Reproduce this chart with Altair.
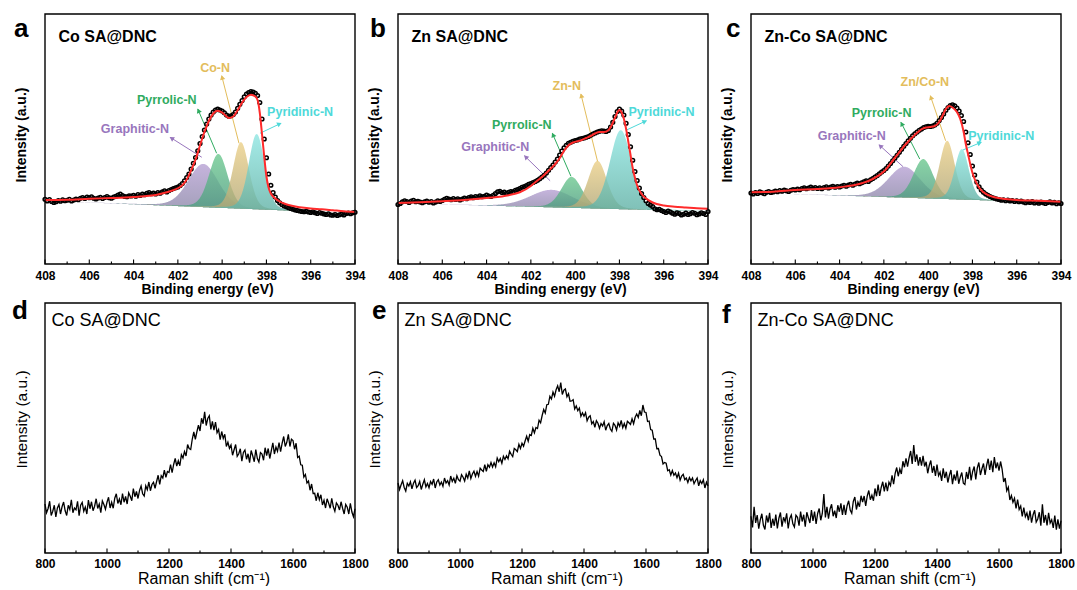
import numpy as np
import pandas as pd
import altair as alt

FONT = "Liberation Sans"

# ---------------- XPS N 1s: measured points, 408.0 -> 394.0 eV, 0.1 eV steps ----------------
xps_a = [25.9, 25.2, 25.8, 25.0, 24.6, 24.9, 25.4, 25.1, 25.7, 25.3,
         25.5, 25.9, 25.2, 25.6, 26.0, 25.7, 26.3, 26.6, 26.2, 26.8,
         26.5, 26.9, 26.3, 26.0, 26.4, 26.7, 26.2, 26.6, 27.0, 26.5,
         26.3, 26.8, 27.1, 27.6, 28.0, 27.4, 27.0, 26.9, 27.3, 27.2,
         27.5, 27.1, 27.8, 27.4, 28.0, 27.7, 28.3, 28.6, 28.1, 28.4,
         28.0, 28.6, 28.3, 28.9, 29.3, 28.8, 29.4, 29.8, 30.2, 30.5,
         30.8, 31.4, 32.2, 33.3, 34.6, 36.0, 38.0, 40.3, 42.6, 45.3,
         48.2, 51.0, 53.6, 56.0, 58.0, 59.6, 60.8, 61.6, 62.0, 61.6,
         61.2, 60.5, 59.6, 59.1, 59.3, 59.8, 60.8, 62.3, 63.9, 65.4,
         66.9, 68.0, 68.6, 69.0, 68.8, 68.3, 67.4, 64.6, 58.0, 50.0,
         42.5, 36.0, 31.5, 28.6, 26.8, 25.4, 24.5, 23.8, 23.2, 22.9,
         22.5, 22.2, 21.9, 21.6, 21.4, 21.2, 21.0, 20.9, 21.1, 20.8,
         20.6, 20.9, 20.5, 20.2, 20.6, 20.3, 20.0, 19.8, 20.1, 19.6,
         19.5, 19.8, 19.4, 19.7, 20.0, 19.6, 20.2, 20.4, 20.1, 20.5,
         20.7]
xps_b = [23.8, 24.2, 24.9, 25.3, 25.0, 24.6, 25.2, 25.5, 24.9, 25.1,
         24.8, 24.5, 24.9, 25.2, 24.7, 25.0, 24.4, 24.8, 25.3, 25.0,
         25.4, 25.9, 26.3, 26.0, 25.7, 26.2, 25.8, 26.1, 25.6, 26.0,
         26.4, 26.1, 26.6, 26.9, 26.5, 27.0, 26.8, 27.3, 26.9, 27.1,
         27.6, 27.2, 27.0, 27.5, 28.2, 28.9, 29.1, 28.6, 28.8, 28.3,
         28.7, 29.0, 28.9, 29.5, 29.8, 30.2, 30.7, 31.0, 31.4, 31.9,
         32.2, 32.6, 33.0, 33.5, 34.1, 34.8, 35.5, 36.4, 37.5, 38.6,
         39.6, 40.8, 42.0, 43.6, 45.2, 46.5, 47.5, 48.3, 48.7, 49.1,
         49.4, 49.6, 50.0, 50.2, 50.4, 50.7, 51.0, 51.5, 52.0, 52.4,
         52.8, 53.1, 53.3, 53.2, 53.0, 53.4, 54.8, 56.7, 59.0, 61.0,
         62.0, 61.2, 59.6, 56.3, 51.8, 46.9, 41.5, 37.0, 33.4, 30.4,
         28.2, 26.6, 25.3, 24.2, 23.6, 23.0, 22.1, 21.7, 21.9, 21.4,
         21.0, 20.6, 21.2, 20.8, 20.3, 19.9, 20.5, 20.2, 19.6, 19.9,
         20.4, 19.8, 20.1, 20.6, 20.3, 19.7, 20.0, 20.5, 20.2, 19.8,
         21.0]
xps_c = [28.4, 28.0, 28.6, 28.2, 28.9, 28.5, 28.1, 28.7, 29.0, 28.6,
         28.8, 29.2, 28.9, 29.4, 29.1, 29.6, 29.3, 29.0, 29.5, 29.8,
         29.6, 30.0, 29.7, 30.2, 30.5, 30.1, 30.4, 30.8, 30.3, 30.6,
         30.2, 30.5, 30.1, 30.6, 30.9, 30.4, 30.8, 31.1, 30.7, 31.0,
         30.8, 31.2, 31.5, 31.1, 31.6, 31.9, 31.5, 32.0, 32.4, 32.1,
         32.5, 32.9, 33.3, 33.0, 33.7, 34.2, 34.8, 35.4, 36.1, 36.8,
         37.4, 38.2, 39.2, 40.2, 41.3, 42.4, 43.5, 44.7, 45.9, 47.1,
         48.2, 49.3, 50.3, 51.3, 52.1, 52.8, 53.5, 54.0, 54.6, 54.9,
         55.1, 55.0, 55.2, 55.6, 56.3, 57.4, 58.6, 60.0, 61.5, 62.6,
         63.4, 63.7, 63.3, 62.4, 61.2, 59.4, 57.0, 52.8, 48.5, 43.8,
         39.2, 35.6, 32.8, 30.9, 29.6, 28.7, 28.0, 27.5, 27.0, 26.6,
         26.3, 26.0, 25.8, 25.5, 25.7, 25.3, 25.6, 25.2, 25.4, 25.0,
         25.3, 24.9, 25.2, 24.8, 24.5, 24.9, 24.6, 25.0, 24.4, 24.7,
         24.3, 24.8, 24.5, 24.2, 24.6, 24.9, 24.4, 24.7, 24.1, 24.5,
         24.2]

# fitted envelopes (red)
fit_a_E = [408, 407, 406, 405, 404, 403.5, 403, 402.5, 402, 401.8, 401.6, 401.4, 401.2, 401.0,
           400.8, 400.6, 400.4, 400.2, 400.0, 399.8, 399.7, 399.5, 399.3, 399.1, 398.9, 398.7,
           398.5, 398.4, 398.3, 398.2, 398.1, 398.0, 397.9, 397.8, 397.6, 397.4, 397.2, 397.0,
           396.5, 396, 395.5, 395, 394.5, 394]
fit_a_I = [25.6, 25.7, 26.1, 26.4, 26.8, 27.1, 27.6, 28.7, 30.3, 31.5, 33.8, 37.5, 41.8, 47.4,
           52.8, 57.2, 60.2, 61.3, 60.6, 59.0, 58.4, 59.0, 61.5, 64.5, 66.8, 67.7,
           67.0, 65.6, 60.5, 52.0, 43.0, 35.0, 30.5, 28.2, 26.2, 25.0, 24.2, 23.6,
           22.7, 22.2, 21.9, 21.5, 21.1, 20.8]
fit_b_E = [408, 407, 406, 405, 404, 403, 402.5, 402, 401.8, 401.5, 401.2, 400.9, 400.7, 400.5,
           400.3, 400.1, 399.9, 399.7, 399.5, 399.3, 399.1, 398.9, 398.7, 398.5, 398.35, 398.2,
           398.05, 397.98, 397.9, 397.8, 397.7, 397.6, 397.5, 397.4, 397.3, 397.2, 397.0, 396.8,
           396.5, 396.0, 395.5, 395.0, 394.5, 394]
fit_b_I = [24.4, 24.7, 25.1, 25.6, 26.4, 27.5, 28.7, 31.2, 32.7, 34.8, 37.3, 40.0, 42.3, 45.3,
           47.5, 48.6, 49.1, 49.6, 50.4, 51.2, 52.2, 52.8, 52.8, 53.5, 55.5, 58.5,
           61.3, 61.6, 60.6, 58.1, 54.1, 49.0, 43.7, 38.4, 34.5, 31.4, 28.0, 26.2,
           24.6, 23.4, 22.9, 22.6, 22.3, 22.1]
fit_c_E = [408, 407, 406, 405, 404, 403, 402.5, 402, 401.5, 401, 400.7, 400.5, 400.3, 400.1,
           399.9, 399.7, 399.5, 399.35, 399.2, 399.05, 398.9, 398.7, 398.55, 398.4, 398.3, 398.2,
           398.1, 398.0, 397.9, 397.7, 397.5, 397.0, 396.5, 396, 395, 394]
fit_c_I = [28.7, 28.9, 29.6, 30.0, 30.7, 32.3, 34.0, 37.0, 42.5, 48.0, 50.8, 52.5, 53.9, 54.6,
           54.8, 55.2, 56.8, 59.3, 62.0, 63.2, 62.6, 60.8, 58.0, 53.0, 48.0, 44.0,
           40.0, 36.5, 34.0, 30.6, 28.7, 26.7, 26.0, 25.6, 25.3, 24.9]

# fitted components: Graphitic-N, Pyrrolic-N, M-N, Pyridinic-N
comp_keys = ["gr", "py", "mn", "pd"]
comp_a_center = [400.85, 400.17, 399.15, 398.44]
comp_a_height = [17.3, 21.5, 26.6, 30.1]
comp_a_fwhm = [1.6, 1.0, 0.85, 0.85]
comp_b_center = [401.06, 400.16, 398.99, 397.94]
comp_b_height = [7.0, 12.4, 19.1, 31.6]
comp_b_fwhm = [2.3, 1.1, 1.0, 1.15]
comp_c_center = [401.07, 400.22, 399.14, 398.48]
comp_c_height = [12.4, 15.7, 23.3, 20.2]
comp_c_fwhm = [1.7, 1.05, 0.8, 0.75]
baseline_a = [25.3, 20.3]   # at 408 eV, at 394 eV
baseline_b = [24.3, 21.0]
baseline_c = [28.5, 24.5]

# ---------------- Raman spectra, 800 -> 1800 cm-1, 5 cm-1 steps ----------------
raman_d = [19.6, 16.1, 17.8, 20.7, 15.0, 16.7, 19.1, 14.4, 18.0, 19.4,
           15.6, 18.5, 20.4, 16.9, 15.0, 19.1, 17.4, 21.3, 16.1, 18.0,
           17.3, 20.7, 14.9, 19.1, 20.2, 16.7, 18.4, 15.6, 21.2, 17.7,
           20.5, 16.9, 18.7, 21.7, 17.8, 19.6, 16.1, 20.8, 19.4, 17.5,
           20.3, 22.3, 18.0, 20.3, 17.9, 21.9, 23.7, 19.8, 21.6, 19.3,
           23.8, 20.3, 22.6, 19.6, 24.1, 22.7, 20.9, 25.8, 22.5, 24.6,
           21.8, 25.0, 26.8, 23.7, 22.8, 26.9, 25.3, 28.4, 24.9, 27.4,
           28.3, 25.9, 28.6, 31.1, 27.4, 30.9, 30.0, 33.1, 30.3, 32.6,
           32.2, 35.4, 32.1, 35.4, 37.8, 34.8, 36.9, 34.9, 39.3, 38.0,
           40.6, 38.8, 43.4, 41.8, 41.4, 45.5, 48.4, 45.5, 48.5, 51.1,
           48.8, 53.9, 51.7, 56.5, 51.0, 53.8, 54.9, 49.4, 52.7, 49.1,
           52.4, 48.1, 49.4, 45.3, 48.6, 45.8, 47.5, 42.6, 44.3, 41.9,
           43.2, 39.1, 41.3, 43.4, 38.7, 39.7, 41.7, 36.7, 40.2, 41.2,
           37.5, 39.7, 36.1, 41.0, 38.9, 36.5, 41.4, 37.8, 36.4, 40.2,
           39.6, 37.1, 42.1, 39.0, 41.8, 37.8, 40.9, 44.1, 39.6, 42.4,
           40.7, 44.2, 40.5, 43.9, 46.6, 42.6, 44.3, 47.5, 42.6, 45.5,
           45.0, 41.5, 43.9, 38.2, 38.7, 35.3, 35.1, 30.4, 31.4, 28.0,
           28.8, 25.1, 27.6, 23.8, 23.9, 20.9, 24.1, 21.3, 23.3, 19.2,
           21.1, 18.0, 21.7, 19.9, 17.9, 21.9, 18.5, 16.7, 20.0, 19.1,
           17.2, 20.5, 17.9, 15.6, 19.4, 18.3, 15.6, 19.9, 16.4, 14.5,
           17.7]
raman_e = [28.0, 25.4, 27.3, 28.9, 26.2, 24.8, 27.9, 26.8, 28.5, 25.7,
           27.9, 29.1, 26.2, 26.9, 28.6, 25.4, 27.5, 29.3, 26.4, 27.8,
           26.1, 28.6, 27.5, 29.6, 26.0, 28.4, 29.3, 27.2, 28.4, 26.7,
           30.0, 28.0, 28.9, 27.2, 30.8, 28.6, 29.9, 27.9, 30.9, 29.3,
           28.7, 31.3, 30.3, 28.8, 31.5, 30.0, 32.8, 29.8, 31.6, 32.7,
           30.7, 32.6, 30.7, 33.9, 33.2, 32.6, 35.3, 32.7, 35.3, 34.3,
           36.2, 34.4, 36.1, 34.5, 38.0, 36.5, 37.8, 35.9, 38.7, 37.4,
           38.9, 37.7, 40.7, 39.5, 38.6, 41.8, 41.3, 40.6, 43.5, 41.8,
           43.9, 42.7, 44.8, 46.7, 44.7, 47.4, 47.0, 49.9, 48.1, 50.2,
           49.8, 53.1, 52.1, 55.0, 57.4, 56.0, 59.3, 59.5, 62.7, 61.6,
           64.4, 62.7, 65.3, 66.9, 64.5, 68.2, 63.4, 65.1, 65.6, 62.5,
           63.7, 60.7, 60.8, 61.3, 57.6, 58.8, 56.9, 58.0, 54.7, 56.1,
           54.7, 56.1, 52.9, 54.3, 54.9, 51.7, 52.6, 50.3, 52.9, 51.9,
           49.9, 51.8, 50.8, 52.5, 49.1, 51.0, 51.8, 49.6, 48.7, 51.9,
           51.1, 49.2, 52.1, 50.7, 53.0, 50.1, 51.8, 49.9, 52.7, 52.1,
           51.4, 53.7, 51.7, 54.3, 55.6, 54.2, 57.0, 54.9, 59.2, 56.4,
           56.2, 52.6, 52.8, 49.4, 49.1, 45.6, 45.6, 41.7, 41.8, 39.1,
           38.6, 35.6, 36.2, 35.9, 32.9, 33.3, 31.2, 33.0, 31.1, 32.0,
           30.1, 31.9, 29.1, 30.8, 31.5, 29.3, 30.0, 28.2, 30.2, 28.9,
           30.0, 27.7, 29.0, 30.0, 26.9, 28.9, 27.8, 29.3, 26.0, 28.3,
           26.8]
raman_f = [14.7, 10.2, 18.5, 12.0, 15.2, 9.7, 13.3, 15.7, 11.1, 9.4,
           15.0, 12.2, 16.1, 10.0, 13.7, 10.9, 15.4, 9.8, 13.9, 16.2,
           10.5, 14.3, 12.5, 15.9, 9.8, 13.8, 15.2, 11.7, 10.4, 15.1,
           14.3, 10.9, 16.6, 12.6, 15.3, 10.5, 16.3, 14.1, 12.0, 17.2,
           12.8, 16.6, 11.6, 15.8, 17.8, 13.1, 15.8, 23.6, 14.2, 18.5,
           13.7, 17.6, 19.5, 14.7, 16.9, 14.0, 19.1, 16.5, 19.9, 15.2,
           19.3, 15.2, 18.9, 20.9, 17.2, 15.9, 20.6, 22.4, 17.4, 20.3,
           18.5, 22.9, 20.4, 22.8, 18.8, 22.8, 25.0, 21.3, 23.1, 20.9,
           25.8, 22.7, 27.4, 22.8, 26.2, 28.5, 24.6, 28.2, 24.7, 28.3,
           27.0, 31.1, 27.5, 31.8, 34.2, 30.7, 33.6, 31.6, 36.7, 34.3,
           37.9, 34.5, 38.1, 40.8, 35.6, 43.2, 36.5, 39.4, 34.9, 38.4,
           34.9, 38.9, 34.6, 36.5, 31.9, 35.0, 37.0, 32.1, 34.8, 30.8,
           35.4, 30.9, 32.3, 28.8, 33.9, 30.0, 32.5, 28.2, 31.1, 33.2,
           27.5, 31.4, 29.0, 33.0, 27.7, 30.3, 32.2, 27.9, 27.4, 32.4,
           29.6, 34.5, 29.0, 32.6, 34.6, 29.4, 34.0, 36.2, 31.2, 33.7,
           35.8, 31.2, 35.0, 37.7, 33.2, 37.0, 32.3, 38.4, 33.9, 36.2,
           32.9, 36.6, 33.6, 28.4, 30.0, 24.9, 26.3, 21.2, 23.0, 20.3,
           21.9, 17.8, 21.4, 17.4, 18.8, 14.6, 18.2, 14.5, 16.0, 13.1,
           17.0, 12.1, 15.3, 17.1, 12.4, 13.6, 16.3, 10.9, 19.5, 12.1,
           15.2, 11.0, 16.1, 12.0, 13.3, 10.0, 15.0, 9.3, 13.5, 9.7,
           12.9]

# ---------------- layout / style ----------------
W, H = 310, 250
PX_E = W / 14.0     # px per eV
PX_I = H / 100.0    # px per intensity unit
comp_top = ["#b7a1d4", "#6cc98f", "#ecd088", "#8ee6e2"]
comp_bot = ["#8a86a6", "#4c9a80", "#b0a676", "#5fb0a4"]
text_col = ["#9876bd", "#2fab60", "#e3bd5c", "#4ed9d9"]
col_scale = alt.Scale(domain=comp_keys, range=text_col)

# annotations: start (E, I), arrow head (E, I), label centre (E, I)
ann_a = [("Graphitic-N", 400.92, 42.7, 402.35, 50.7, 403.94, 54.0),
         ("Pyrrolic-N", 400.25, 44.3, 401.10, 62.0, 402.50, 65.6),
         ("Co-N", 399.24, 48.3, 400.02, 75.3, 400.32, 78.3),
         ("Pyridinic-N", 398.29, 52.3, 397.34, 56.3, 396.48, 60.7)]
ann_b = [("Graphitic-N", 401.13, 33.3, 402.29, 43.3, 403.61, 46.9),
         ("Pyrrolic-N", 400.19, 35.1, 401.03, 52.3, 402.41, 55.7),
         ("Zn-N", 398.99, 41.1, 399.74, 68.0, 400.38, 71.3),
         ("Pyridinic-N", 397.68, 53.6, 396.78, 57.3, 396.10, 60.9)]
ann_c = [("Graphitic-N", 401.13, 38.9, 402.22, 47.7, 403.45, 51.3),
         ("Pyrrolic-N", 400.38, 42.0, 401.23, 56.7, 402.10, 60.3),
         ("Zn/Co-N", 399.21, 49.3, 399.90, 67.3, 400.15, 72.9),
         ("Pyridinic-N", 398.43, 45.6, 397.60, 48.7, 396.70, 51.3)]


def pv(e, c, h, fwhm, eta=0.2):
    s = fwhm / 2.3548
    g = np.exp(-0.5 * ((e - c) / s) ** 2)
    lo = 1.0 / (1.0 + ((e - c) / (fwhm / 2.0)) ** 2)
    return h * ((1 - eta) * g + eta * lo)


def xps_x():
    return alt.X("E:Q",
                 scale=alt.Scale(domain=[394, 408], reverse=True, nice=False, zero=False),
                 axis=alt.Axis(values=[408, 406, 404, 402, 400, 398, 396, 394], format="d",
                               ticks=False, domain=False, grid=False,
                               labelFont=FONT, labelFontSize=12, labelFontWeight="bold",
                               labelColor="black", labelPadding=6, labelFlush=False,
                               title="Binding energy (eV)", titleFont=FONT, titleFontSize=14,
                               titleFontWeight="bold", titleColor="black",
                               titleX=162, titleY=25, titleBaseline="middle", titleAlign="center"))


def yenc(bold, size, ty):
    return alt.Y("I:Q", scale=alt.Scale(domain=[0, 100], nice=False, zero=False),
                 axis=alt.Axis(labels=False, ticks=False, domain=False, grid=False,
                               title="Intensity (a.u.)", titleFont=FONT, titleFontSize=size,
                               titleFontWeight="bold" if bold else "normal", titleColor="black",
                               titleAngle=270, titleX=-24, titleY=ty,
                               titleBaseline="middle", titleAlign="center"))


def frame_layer():
    return alt.Chart(pd.DataFrame({"f": [0]})).mark_rect(
        fillOpacity=0, stroke="black", strokeWidth=1.4).encode(
        x=alt.value(0), x2=alt.value(W), y=alt.value(0), y2=alt.value(H))


def tick_layers(xenc_fn, field, majors, minors):
    out = []
    for vals, ln in ((majors, 4.5), (minors, 2.5)):
        df = pd.DataFrame({field: vals})
        out.append(alt.Chart(df).mark_rule(color="black", strokeWidth=1.1).encode(
            x=xenc_fn(), y=alt.value(H), y2=alt.value(H - ln)))
    return out


def text_layer(txt, x, y, size, weight, align="left"):
    return alt.Chart(pd.DataFrame({"t": [txt]})).mark_text(
        font=FONT, fontSize=size, fontWeight=weight, align=align, baseline="alphabetic",
        color="black").encode(x=alt.value(x), y=alt.value(y), text="t:N")


def xps_panel(letter, letter_x, title, pts, fitE, fitI, centers, heights, fwhms, base, ann):
    E = np.round(408.0 - 0.1 * np.arange(len(pts)), 2)
    pts_df = pd.DataFrame({"E": E, "I": pts})
    fit_df = pd.DataFrame({"E": fitE, "I": fitI})
    grid = np.round(np.arange(408.0, 393.995, -0.02), 3)
    bl = base[0] + (base[1] - base[0]) * (408.0 - grid) / 14.0
    ya = yenc(True, 14, 120.5)
    layers = []
    for k in range(4):
        prof = pv(grid, centers[k], heights[k], fwhms[k])
        m = prof > 0.05
        df = pd.DataFrame({"E": grid[m], "I": bl[m] + prof[m], "I2": bl[m]})
        grad = alt.Gradient(gradient="linear",
                            stops=[alt.GradientStop(color=comp_top[k], offset=0),
                                   alt.GradientStop(color=comp_bot[k], offset=1)],
                            x1=0, x2=0, y1=0, y2=1)
        layers.append(alt.Chart(df).mark_area(color=grad, opacity=0.8).encode(
            x=xps_x(), y=ya, y2="I2:Q"))
    rows, heads, labs = [], [], []
    for k, (name, e0, i0, e1, i1, el, il) in enumerate(ann):
        rows.append({"E": e0, "I": i0, "E2": e1, "I2": i1, "key": comp_keys[k]})
        dx = (e0 - e1) * PX_E
        dy = -(i1 - i0) * PX_I
        ang = float(np.degrees(np.arctan2(dx, -dy))) % 360
        L = np.hypot(dx, dy)
        back = 2.5 / L
        heads.append({"E": e1 - (e1 - e0) * back, "I": i1 - (i1 - i0) * back,
                      "key": comp_keys[k], "ang": ang})
        labs.append({"E": el, "I": il, "txt": name, "key": comp_keys[k]})
    layers.append(alt.Chart(pd.DataFrame(rows)).mark_rule(strokeWidth=1).encode(
        x=xps_x(), y=ya, x2="E2:Q", y2="I2:Q",
        color=alt.Color("key:N", scale=col_scale, legend=None)))
    layers.append(alt.Chart(pd.DataFrame(heads)).mark_point(
        shape="triangle", filled=True, size=28, opacity=1).encode(
        x=xps_x(), y=ya, color=alt.Color("key:N", scale=col_scale, legend=None),
        angle=alt.Angle("ang:Q", scale=None)))
    layers.append(alt.Chart(pd.DataFrame(labs)).mark_text(
        font=FONT, fontSize=12.5, fontWeight="bold", align="center", baseline="middle").encode(
        x=xps_x(), y=ya, text="txt:N", color=alt.Color("key:N", scale=col_scale, legend=None)))
    layers.append(alt.Chart(pts_df).mark_point(
        shape="circle", filled=False, size=14, strokeWidth=1.5, color="black", opacity=1).encode(
        x=xps_x(), y=ya))
    layers.append(alt.Chart(fit_df).mark_line(
        color="#ff2b2b", strokeWidth=2, interpolate="monotone").encode(x=xps_x(), y=ya))
    layers += tick_layers(xps_x, "E", [408, 406, 404, 402, 400, 398, 396, 394],
                          [407, 405, 403, 401, 399, 397, 395])
    layers.append(frame_layer())
    layers.append(text_layer(title, 13.5, 27.5, 16, "bold"))
    layers.append(text_layer(letter, letter_x, 23, 26, "bold"))
    return alt.layer(*layers).properties(width=W, height=H)


def raman_x():
    return alt.X("R:Q", scale=alt.Scale(domain=[800, 1800], nice=False, zero=False),
                 axis=alt.Axis(values=[800, 1000, 1200, 1400, 1600, 1800], format="d",
                               ticks=False, domain=False, grid=False,
                               labelFont=FONT, labelFontSize=12, labelFontWeight="bold",
                               labelColor="black", labelPadding=5, labelFlush=False,
                               title="Raman shift (cm⁻¹)", titleFont=FONT, titleFontSize=16,
                               titleFontWeight="normal", titleColor="black",
                               titleX=158.5, titleY=25, titleBaseline="middle", titleAlign="center"))


def raman_panel(letter, letter_x, letter_y, title, vals):
    R = 800 + 5 * np.arange(len(vals))
    df = pd.DataFrame({"R": R, "I": vals})
    ya = yenc(False, 15.5, 116)
    layers = [alt.Chart(df).mark_line(color="black", strokeWidth=1.3).encode(x=raman_x(), y=ya)]
    layers += tick_layers(raman_x, "R", [800, 1000, 1200, 1400, 1600, 1800],
                          [900, 1100, 1300, 1500, 1700])
    layers.append(frame_layer())
    layers.append(text_layer(title, 6.5, 22.5, 18, "normal"))
    layers.append(text_layer(letter, letter_x, letter_y, 26, "bold"))
    return alt.layer(*layers).properties(width=W, height=H)


pa = xps_panel("a", -31, "Co SA@DNC", xps_a, fit_a_E, fit_a_I,
               comp_a_center, comp_a_height, comp_a_fwhm, baseline_a, ann_a)
pb = xps_panel("b", -28, "Zn SA@DNC", xps_b, fit_b_E, fit_b_I,
               comp_b_center, comp_b_height, comp_b_fwhm, baseline_b, ann_b)
pc = xps_panel("c", -25, "Zn-Co SA@DNC", xps_c, fit_c_E, fit_c_I,
               comp_c_center, comp_c_height, comp_c_fwhm, baseline_c, ann_c)
pd_ = raman_panel("d", -33, 16, "Co SA@DNC", raman_d)
pe = raman_panel("e", -26, 16, "Zn SA@DNC", raman_e)
pf = raman_panel("f", -29, 20, "Zn-Co SA@DNC", raman_f)

chart = alt.concat(pa, pb, pc, pd_, pe, pf, columns=3,
                   spacing={"row": 39, "column": 43}, bounds="flush").properties(
    padding={"left": 12, "top": 13, "right": 0, "bottom": 0},
    background="white"
).configure_view(stroke=None)

chart.save("out.html", embed_options={"renderer": "svg", "actions": False})
